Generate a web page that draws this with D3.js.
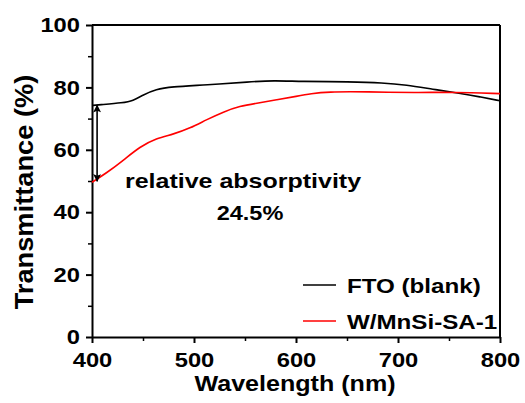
<!DOCTYPE html>
<html>
<head>
<meta charset="utf-8">
<script src="https://cdn.jsdelivr.net/npm/d3@7"></script>
<style>
  body { margin: 0; background: #fff; }
  text { font-family: Arial, "Liberation Sans", sans-serif; font-weight: bold; }
</style>
</head>
<body>
<div id="container"></div>
<script>
// wavelength (nm) and transmittance (%)
const ftoWave = [400, 406, 431, 440, 450, 463, 477, 512, 555, 578, 604, 653, 685, 708, 734, 761, 780, 800];
const ftoValue = [74.2, 74.4, 75.1, 75.7, 77.6, 79.4, 80.2, 80.8, 81.8, 82.2, 81.9, 81.8, 81.5, 80.8, 79.4, 78.1, 77.0, 75.7];

const redWave = [400, 414, 431, 447, 463, 480, 496, 512, 529, 545, 561, 581, 601, 615, 630, 669, 718, 754, 800];
const redValue = [49.6, 52.5, 56.7, 61.0, 63.7, 65.0, 66.9, 69.6, 72.2, 74.0, 74.9, 76.0, 77.2, 78.0, 78.6, 78.6, 78.3, 78.5, 78.0];

const xTicks = [400, 500, 600, 700, 800];
const xMinor = [450, 550, 650, 750];
const yTicks = [0, 20, 40, 60, 80, 100];
const yMinor = [10, 30, 50, 70, 90];
const seriesNames = ['FTO (blank)', 'W/MnSi-SA-1'];
const seriesColors = ['#000000', '#ff0000'];
const arrowAt = 405, arrowTop = 74.3, arrowBottom = 49.9;

const width = 525, height = 403;
const margin = {left: 92, right: 25, top: 25, bottom: 66};

const svg = d3.select('#container').append('svg')
  .attr('width', width).attr('height', height);

// the original lettering is a bit wider than Arial bold
function stretch(sel, k) {
  sel.each(function() {
    const w = this.getComputedTextLength();
    d3.select(this).attr('textLength', w * k).attr('lengthAdjust', 'spacingAndGlyphs');
  });
}

const x = d3.scaleLinear().domain([400, 800]).range([margin.left, width - margin.right]);
const y = d3.scaleLinear().domain([0, 100]).range([height - margin.bottom, margin.top]);

// minor ticks
svg.append('g')
  .attr('transform', `translate(0,${y(0)})`)
  .call(d3.axisBottom(x).tickValues(xMinor).tickSize(4).tickFormat(''))
  .call(g => g.select('.domain').remove())
  .call(g => g.selectAll('line').attr('stroke-width', 1.5));
svg.append('g')
  .attr('transform', `translate(${x(400)},0)`)
  .call(d3.axisLeft(y).tickValues(yMinor).tickSize(4).tickFormat(''))
  .call(g => g.select('.domain').remove())
  .call(g => g.selectAll('line').attr('stroke-width', 1.5));

// major axes
const xAxis = svg.append('g')
  .attr('transform', `translate(0,${y(0)})`)
  .call(d3.axisBottom(x).tickValues(xTicks).tickSize(6).tickPadding(9).tickSizeOuter(0));
const yAxis = svg.append('g')
  .attr('transform', `translate(${x(400)},0)`)
  .call(d3.axisLeft(y).tickValues(yTicks).tickSize(6).tickPadding(6).tickSizeOuter(0));

[xAxis, yAxis].forEach(a => {
  a.select('.domain').attr('stroke-width', 2);
  a.selectAll('.tick line').attr('stroke-width', 2);
  a.selectAll('.tick text').attr('font-size', 21).attr('fill', '#000')
    .style('font-family', 'Arial, "Liberation Sans", sans-serif').style('font-weight', 'bold')
    .call(stretch, 1.13);
});

// top and right frame
svg.append('line')
  .attr('x1', x(400)).attr('x2', x(800)).attr('y1', y(100)).attr('y2', y(100))
  .attr('stroke', '#000').attr('stroke-width', 2);
svg.append('line')
  .attr('x1', x(800)).attr('x2', x(800)).attr('y1', y(100)).attr('y2', y(0))
  .attr('stroke', '#000').attr('stroke-width', 2);

// series
const line = d3.line()
  .x(d => x(d[0]))
  .y(d => y(d[1]))
  .curve(d3.curveBasis);

const series = [
  d3.zip(ftoWave, ftoValue),
  d3.zip(redWave, redValue)
];

svg.selectAll('.series')
  .data(series)
  .enter()
  .append('path')
  .attr('class', 'series')
  .attr('fill', 'none')
  .attr('stroke', (d, i) => seriesColors[i])
  .attr('stroke-width', 1.6)
  .attr('d', d => line(d));

// double arrow
const defs = svg.append('defs');
defs.append('marker')
  .attr('id', 'head')
  .attr('viewBox', '0 0 10 10')
  .attr('refX', 9).attr('refY', 5)
  .attr('markerWidth', 6).attr('markerHeight', 5)
  .attr('markerUnits', 'strokeWidth')
  .attr('orient', 'auto-start-reverse')
  .append('path')
  .attr('d', 'M0,0 L10,5 L0,10 L2,5 Z')
  .attr('fill', '#000');

svg.append('line')
  .attr('x1', x(arrowAt)).attr('x2', x(arrowAt))
  .attr('y1', y(arrowTop)).attr('y2', y(arrowBottom))
  .attr('stroke', '#000').attr('stroke-width', 1.6)
  .attr('marker-start', 'url(#head)')
  .attr('marker-end', 'url(#head)');

// annotation
svg.append('text')
  .attr('x', 243).attr('y', 188)
  .attr('text-anchor', 'middle')
  .attr('font-size', 21)
  .text('relative absorptivity')
  .call(stretch, 1.19);
svg.append('text')
  .attr('x', 250).attr('y', 220)
  .attr('text-anchor', 'middle')
  .attr('font-size', 21)
  .text('24.5%')
  .call(stretch, 1.12);

// legend
const legend = svg.append('g');
seriesNames.forEach((name, i) => {
  const ly = 285 + i * 36;
  legend.append('line')
    .attr('x1', 303).attr('x2', 336).attr('y1', ly).attr('y2', ly)
    .attr('stroke', seriesColors[i]).attr('stroke-width', 1.6);
  legend.append('text')
    .attr('x', 347).attr('y', ly + 8)
    .attr('font-size', 21)
    .text(name)
    .call(stretch, 1.15);
});

// axis titles
svg.append('text')
  .attr('x', 295).attr('y', 391)
  .attr('text-anchor', 'middle')
  .attr('font-size', 22)
  .text('Wavelength (nm)')
  .call(stretch, 1.14);
svg.append('text')
  .attr('transform', 'translate(33,192) rotate(-90)')
  .attr('text-anchor', 'middle')
  .attr('font-size', 25)
  .text('Transmittance (%)')
  .call(stretch, 1.09);
</script>
</body>
</html>
